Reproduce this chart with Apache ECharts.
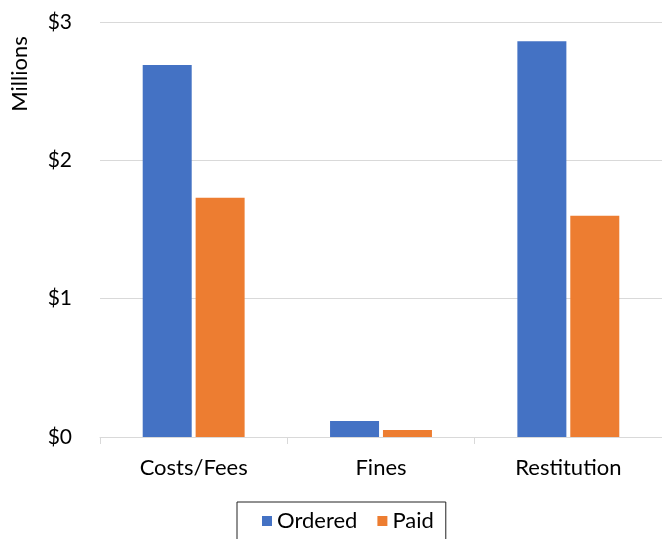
<!DOCTYPE html>
<html>
<head>
<meta charset="utf-8">
<script src="https://cdn.jsdelivr.net/npm/echarts@6/dist/echarts.min.js"></script>
<style>
html,body{margin:0;padding:0;background:#fff;}
#chart{width:662px;height:539px;}
</style>
</head>
<body>
<div id="chart"></div>
<script>
var categories = ['Costs/Fees', 'Fines', 'Restitution'];
var ordered = [2.69, 0.115, 2.86];
var paid = [1.73, 0.05, 1.60];
var yTicks = ['$0', '$1', '$2', '$3'];

var chart = echarts.init(document.getElementById('chart'));
var fontFam = 'Lato, "Open Sans", sans-serif';

chart.setOption({
  animation: false,
  textStyle: {fontFamily: fontFam},
  grid: {left: 100, right: 0, top: 22, bottom: 102},
  graphic: [{
    type: 'text',
    x: 20, y: 74,
    rotation: Math.PI / 2,
    style: {text: 'Millions', fontSize: 22, fontFamily: fontFam, fill: '#000', align: 'center', verticalAlign: 'middle'}
  }],
  legend: {
    data: ['Ordered', 'Paid'],
    left: 237, top: 502,
    orient: 'horizontal',
    padding: [8, 12, 20, 25],
    borderColor: '#222',
    borderWidth: 1,
    itemWidth: 10, itemHeight: 10,
    itemGap: 20,
    icon: 'rect',
    textStyle: {fontSize: 22, color: '#000', fontFamily: fontFam}
  },
  xAxis: {
    type: 'category',
    data: categories,
    axisLine: {lineStyle: {color: '#d9d9d9', width: 1}},
    axisTick: {show: true, length: 7, lineStyle: {color: '#d9d9d9'}},
    axisLabel: {fontSize: 22, color: '#000', margin: 20}
  },
  yAxis: {
    type: 'value',
    min: 0, max: 3, interval: 1,
    axisLine: {show: false},
    axisTick: {show: false},
    splitLine: {lineStyle: {color: '#d9d9d9', width: 1}},
    axisLabel: {
      fontSize: 21, color: '#000', margin: 28,
      formatter: function (v) { return yTicks[Math.round(v)]; }
    }
  },
  series: [
    {name: 'Ordered', type: 'bar', data: ordered, barWidth: 49, barGap: '8%', itemStyle: {color: '#4472c4'}},
    {name: 'Paid', type: 'bar', data: paid, barWidth: 49, itemStyle: {color: '#ed7d31'}}
  ]
});
</script>
</body>
</html>
